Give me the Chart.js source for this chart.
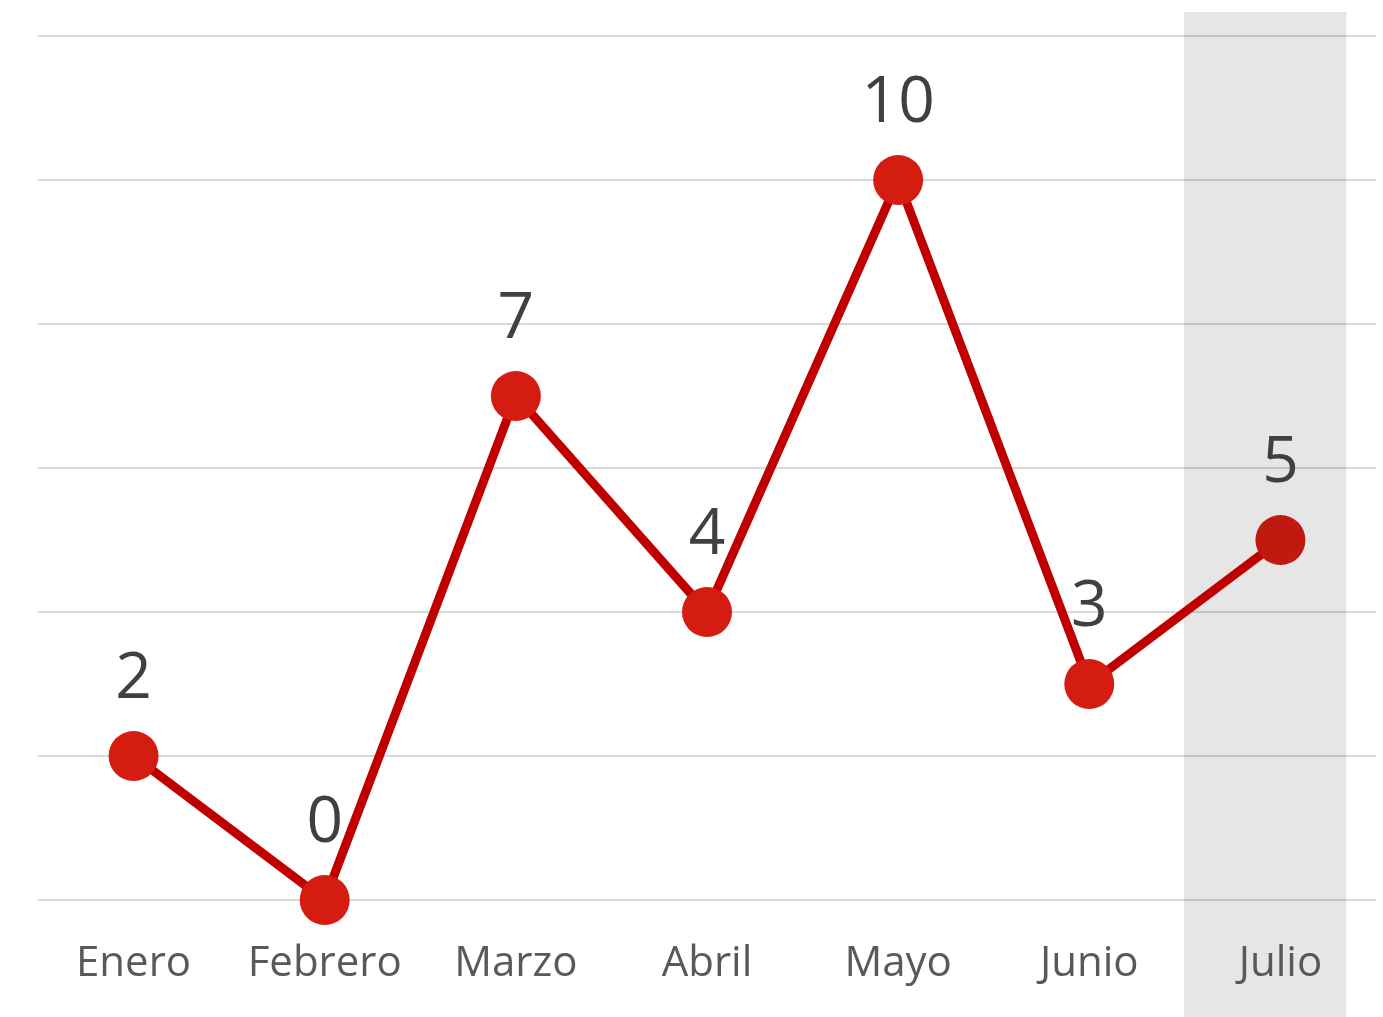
<!DOCTYPE html>
<html>
<head>
<meta charset="utf-8">
<script src="https://cdn.jsdelivr.net/npm/chart.js@4"></script>
<style>
  html, body { margin: 0; padding: 0; background: #ffffff; }
  #wrap { width: 1383px; height: 1017px; position: relative; }
</style>
</head>
<body>
<div id="wrap"><canvas id="c" width="1383" height="1017"></canvas></div>
<script>
const categories = ['Enero', 'Febrero', 'Marzo', 'Abril', 'Mayo', 'Junio', 'Julio'];
const values = [2, 0, 7, 4, 10, 3, 5];
const highlightCategory = 'Julio';
const yTicks = [0, 2, 4, 6, 8, 10, 12];

const bandPlugin = {
  id: 'band',
  beforeDraw(chart) {
    const ctx = chart.ctx;
    const xs = chart.scales.x;
    const idx = categories.indexOf(highlightCategory);
    const step = xs.width / categories.length;
    const cx = xs.getPixelForValue(idx) - step * 0.08;
    const w = step * 0.85;
    ctx.save();
    ctx.fillStyle = '#E6E6E6';
    ctx.fillRect(cx - w / 2, 12, w, chart.height - 12);
    ctx.restore();
  }
};

const labelPlugin = {
  id: 'vlabels',
  afterDatasetsDraw(chart) {
    const ctx = chart.ctx;
    const meta = chart.getDatasetMeta(0);
    ctx.save();
    ctx.font = '64px "Open Sans"';
    ctx.fillStyle = '#404040';
    ctx.textAlign = 'center';
    ctx.textBaseline = 'middle';
    meta.data.forEach((pt, i) => {
      ctx.fillText(String(values[i]), pt.x, pt.y - 76);
    });
    ctx.restore();
  }
};

const pointColors = categories.map(c => c === highlightCategory ? '#C01A10' : '#D41C11');

new Chart(document.getElementById('c'), {
  type: 'line',
  data: {
    labels: categories,
    datasets: [{
      data: values,
      borderColor: '#C00000',
      borderWidth: 9,
      pointRadius: 25,
      pointHoverRadius: 25,
      pointBackgroundColor: pointColors,
      pointBorderWidth: 0,
      tension: 0,
      fill: false,
      clip: false
    }]
  },
  options: {
    responsive: false,
    animation: false,
    events: [],
    layout: { autoPadding: false, padding: { left: 38, right: 7, top: 36, bottom: 0 } },
    plugins: { legend: { display: false }, tooltip: { enabled: false } },
    scales: {
      x: {
        offset: true,
        grid: { display: false, drawTicks: false },
        border: { display: false },
        ticks: {
          font: { family: 'Open Sans', size: 42 },
          color: '#595959',
          padding: 39,
          maxRotation: 0,
          autoSkip: false
        },
        afterFit(scale) { scale.height = 117; }
      },
      y: {
        min: 0,
        max: 12,
        afterBuildTicks(scale) { scale.ticks = yTicks.map(v => ({ value: v })); },
        grid: { color: 'rgba(0,0,0,0.15)', lineWidth: 2, drawTicks: false },
        border: { display: false },
        ticks: { display: false },
        afterFit(scale) { scale.width = 0; }
      }
    }
  },
  plugins: [bandPlugin, labelPlugin]
});
</script>
</body>
</html>
